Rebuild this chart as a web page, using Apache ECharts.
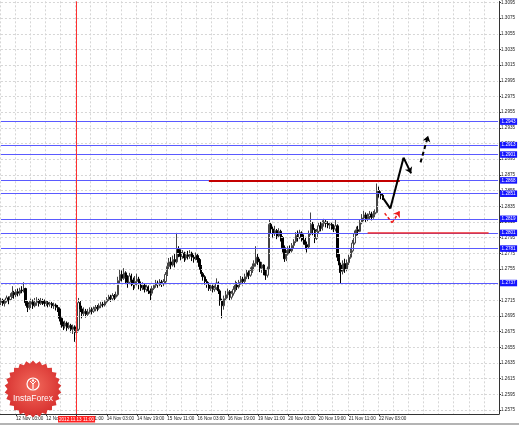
<!DOCTYPE html>
<html><head><meta charset="utf-8">
<script src="https://cdn.jsdelivr.net/npm/echarts@6/dist/echarts.min.js"></script>
<style>html,body{margin:0;padding:0;background:#fff}#c{width:519px;height:425px}</style>
</head><body><div id="c"></div><script>
// ---- data (H1 bars) ----
const firstOpen = 1.2712;
const closes = [
1.2715,1.2711,1.2714,1.2718,1.2716,1.2720,1.2725,1.2722,1.2726,1.2724,
1.2728,1.2727,1.2730,1.2712,1.2706,1.2710,1.2713,1.2708,1.2712,1.2715,
1.2711,1.2714,1.2713,1.2711,1.2712,1.2710,1.2711,1.2708,1.2709,1.2706,
1.2704,1.2692,1.2684,1.2682,1.2686,1.2680,1.2683,1.2678,1.2681,1.2674,
1.2678,1.2712,1.2704,1.2698,1.2701,1.2697,1.2700,1.2703,1.2701,1.2704,
1.2706,1.2705,1.2708,1.2710,1.2709,1.2713,1.2716,1.2719,1.2717,1.2721,
1.2719,1.2722,1.2740,1.2748,1.2743,1.2750,1.2744,1.2738,1.2746,1.2741,
1.2735,1.2739,1.2742,1.2736,1.2731,1.2734,1.2729,1.2732,1.2727,1.2724,
1.2730,1.2734,1.2737,1.2735,1.2738,1.2736,1.2739,1.2748,1.2758,1.2764,
1.2760,1.2767,1.2764,1.2780,1.2776,1.2771,1.2775,1.2769,1.2773,1.2771,
1.2775,1.2770,1.2768,1.2772,1.2767,1.2758,1.2749,1.2745,1.2739,1.2736,
1.2730,1.2733,1.2729,1.2731,1.2737,1.2727,1.2715,1.2708,1.2717,1.2722,
1.2726,1.2719,1.2724,1.2729,1.2735,1.2732,1.2738,1.2742,1.2739,1.2745,
1.2750,1.2747,1.2753,1.2758,1.2762,1.2770,1.2764,1.2756,1.2760,1.2752,
1.2747,1.2755,1.2812,1.2806,1.2800,1.2804,1.2797,1.2803,1.2795,1.2782,
1.2768,1.2774,1.2780,1.2778,1.2785,1.2790,1.2798,1.2795,1.2801,1.2796,
1.2792,1.2786,1.2783,1.2800,1.2812,1.2805,1.2794,1.2803,1.2810,1.2807,
1.2813,1.2815,1.2813,1.2811,1.2812,1.2809,1.2806,1.2810,1.2770,1.2760,
1.2752,1.2762,1.2755,1.2763,1.2770,1.2778,1.2788,1.2800,1.2805,1.2803,
1.2814,1.2820,1.2824,1.2819,1.2822,1.2825,1.2821,1.2825,1.2827,1.2855,
1.2851,1.2849,1.2846];
const highs = [
1.2718,1.2717,1.2716,1.2721,1.2720,1.2724,1.2733,1.2727,1.2729,1.2730,
1.2731,1.2733,1.2738,1.2731,1.2714,1.2714,1.2717,1.2716,1.2718,1.2719,
1.2717,1.2718,1.2717,1.2716,1.2715,1.2714,1.2713,1.2713,1.2712,1.2711,
1.2709,1.2706,1.2693,1.2688,1.2689,1.2688,1.2687,1.2685,1.2684,1.2683,
1.2682,1.2718,1.2714,1.2708,1.2706,1.2704,1.2704,1.2706,1.2706,1.2707,
1.2709,1.2709,1.2711,1.2713,1.2713,1.2715,1.2719,1.2722,1.2722,1.2724,
1.2723,1.2726,1.2745,1.2754,1.2753,1.2756,1.2752,1.2747,1.2750,1.2749,
1.2744,1.2746,1.2749,1.2745,1.2739,1.2738,1.2736,1.2736,1.2734,1.2730,
1.2733,1.2737,1.2741,1.2740,1.2742,1.2741,1.2742,1.2751,1.2763,1.2769,
1.2770,1.2772,1.2774,1.2801,1.2784,1.2780,1.2779,1.2777,1.2776,1.2778,
1.2779,1.2777,1.2773,1.2776,1.2774,1.2769,1.2760,1.2751,1.2747,1.2742,
1.2738,1.2736,1.2735,1.2734,1.2743,1.2739,1.2729,1.2717,1.2721,1.2727,
1.2730,1.2728,1.2727,1.2733,1.2740,1.2738,1.2741,1.2746,1.2745,1.2749,
1.2754,1.2753,1.2757,1.2762,1.2766,1.2784,1.2775,1.2768,1.2764,1.2761,
1.2755,1.2758,1.2818,1.2814,1.2809,1.2810,1.2806,1.2807,1.2805,1.2797,
1.2785,1.2779,1.2784,1.2785,1.2788,1.2793,1.2802,1.2804,1.2805,1.2803,
1.2799,1.2796,1.2790,1.2804,1.2827,1.2815,1.2807,1.2806,1.2814,1.2815,
1.2817,1.2819,1.2818,1.2816,1.2815,1.2814,1.2812,1.2818,1.2812,1.2774,
1.2763,1.2766,1.2768,1.2767,1.2773,1.2782,1.2792,1.2804,1.2809,1.2810,
1.2818,1.2825,1.2829,1.2827,1.2826,1.2829,1.2828,1.2829,1.2831,1.2864,
1.2860,1.2854,1.2851];
const lows = [
1.2709,1.2708,1.2707,1.2712,1.2710,1.2714,1.2718,1.2717,1.2719,1.2720,
1.2721,1.2724,1.2725,1.2708,1.2700,1.2703,1.2705,1.2704,1.2706,1.2708,
1.2707,1.2709,1.2709,1.2707,1.2708,1.2706,1.2707,1.2705,1.2704,1.2702,
1.2700,1.2688,1.2680,1.2677,1.2679,1.2676,1.2678,1.2674,1.2672,1.2662,
1.2665,1.2676,1.2700,1.2692,1.2695,1.2693,1.2695,1.2698,1.2697,1.2699,
1.2701,1.2701,1.2703,1.2705,1.2706,1.2707,1.2711,1.2714,1.2713,1.2715,
1.2714,1.2717,1.2720,1.2737,1.2739,1.2741,1.2736,1.2731,1.2735,1.2733,
1.2728,1.2730,1.2734,1.2729,1.2727,1.2728,1.2725,1.2726,1.2723,1.2715,
1.2721,1.2728,1.2731,1.2731,1.2733,1.2732,1.2733,1.2737,1.2746,1.2755,
1.2755,1.2758,1.2757,1.2762,1.2770,1.2766,1.2768,1.2764,1.2766,1.2767,
1.2768,1.2765,1.2763,1.2766,1.2763,1.2754,1.2745,1.2740,1.2735,1.2731,
1.2727,1.2727,1.2725,1.2726,1.2728,1.2723,1.2708,1.2692,1.2703,1.2714,
1.2718,1.2715,1.2716,1.2721,1.2726,1.2728,1.2730,1.2735,1.2734,1.2737,
1.2742,1.2742,1.2745,1.2750,1.2753,1.2758,1.2760,1.2751,1.2750,1.2747,
1.2741,1.2744,1.2754,1.2800,1.2795,1.2797,1.2793,1.2795,1.2790,1.2776,
1.2764,1.2765,1.2772,1.2774,1.2776,1.2781,1.2788,1.2790,1.2793,1.2790,
1.2786,1.2780,1.2776,1.2781,1.2798,1.2798,1.2788,1.2792,1.2800,1.2803,
1.2804,1.2809,1.2808,1.2807,1.2806,1.2805,1.2802,1.2803,1.2765,1.2750,
1.2737,1.2748,1.2750,1.2752,1.2760,1.2768,1.2776,1.2786,1.2797,1.2798,
1.2802,1.2812,1.2816,1.2815,1.2816,1.2818,1.2817,1.2819,1.2821,1.2826,
1.2846,1.2844,1.2843];

const priceTicks = [1.2575,1.2595,1.2615,1.2635,1.2655,1.2675,1.2695,1.2715,1.2735,1.2755,1.2775,1.2795,1.2815,1.2835,1.2855,1.2875,1.2895,1.2915,1.2935,1.2955,1.2975,1.2995,1.3015,1.3035,1.3055,1.3075,1.3095];
const levelPrices = [1.2943,1.2913,1.2901,1.2868,1.2851,1.2819,1.2801,1.2781,1.2737];
const currentPrice = 1.2846;
const redLevelPrices = [1.2868, 1.2801];
const redLevelFromBar = [110, 194];
const redLevelToBar = [211, 258];
const separatorBar = 40;
const separatorText = '2012.11.13 11:00';
const blackPathBars = [202, 206, 213, 217];
const blackPathPrices = [1.2846, 1.2832, 1.2897, 1.2877];
const blackDashBars = [222, 226];
const blackDashPrices = [1.2891, 1.2925];
const redPathBars = [203, 207, 211];
const redPathPrices = [1.2826, 1.2814, 1.2829];
const totalSlots = 264;
const firstBarTime = Date.UTC(2012, 10, 9, 19);

// ---- categories: hourly bars, weekends skipped ----
const MON = ['Jan','Feb','Mar','Apr','May','Jun','Jul','Aug','Sep','Oct','Nov','Dec'];
const cats = [];
for (let t = firstBarTime; cats.length < totalSlots; t += 3600000) {
  const d = new Date(t), wd = d.getUTCDay();
  if (wd === 0 || wd === 6) continue;
  cats.push(d.getUTCDate() + ' ' + MON[d.getUTCMonth()] + ' ' + String(d.getUTCHours()).padStart(2, '0') + ':00');
}
const lastBar = closes.length - 1;
const firstCat = cats[0], lastCat = cats[totalSlots - 1];
const ohlc = closes.map((c, i) => [i === 0 ? firstOpen : closes[i - 1], c, lows[i], highs[i]]);

function segs(bars, prices, style) {
  const out = [];
  for (let i = 0; i < bars.length - 1; i++) {
    out.push({
      coords: [[bars[i], prices[i]], [bars[i + 1], prices[i + 1]]],
      symbol: ['none', i === bars.length - 2 ? 'arrow' : 'none'],
      symbolSize: [6, 6],
      lineStyle: style
    });
  }
  return out;
}
function hline(p, lineStyle, label) {
  return [
    {coord: [firstCat, p], lineStyle: lineStyle, label: label || {show: false}},
    {coord: [lastCat, p]}
  ];
}

const FS = 4.6, FF = '"Liberation Sans", Arial, sans-serif';
const boxLabel = (txt, bg) => ({show: true, position: 'end', distance: 2, formatter: txt, fontSize: FS, fontFamily: FF,
  color: '#ffffff', backgroundColor: bg, padding: [1, 1.5, 0.5, 1.5]});

// logo starburst (decoration)
const star = [];
const NS = 26, LCX = 33, LCY = 389;
for (let k = 0; k < NS * 2; k++) {
  const r = k % 2 ? 25.5 : 28.5, a = k * Math.PI / NS - Math.PI / 2;
  star.push([LCX + r * Math.cos(a), LCY + r * Math.sin(a)]);
}

const chart = echarts.init(document.getElementById('c'), null, {renderer: 'canvas'});
chart.setOption({
  animation: false,
  backgroundColor: '#ffffff',
  grid: {left: 0, right: 20, top: 0, bottom: 11, containLabel: false},
  xAxis: {
    type: 'category', data: cats, boundaryGap: true,
    axisLine: {show: true, lineStyle: {color: '#333', width: 1}},
    axisTick: {show: true, alignWithLabel: true, length: 2, lineStyle: {color: '#333'},
      interval: (i) => (i - 8) % 16 === 0 && i <= lastBar},
    axisLabel: {show: true, fontSize: FS, fontFamily: FF, color: '#222', margin: 2, align: 'left',
      interval: (i) => (i - 8) % 16 === 0 && i <= lastBar},
    splitLine: {show: true, interval: (i) => i % 8 === 0, lineStyle: {color: '#d6d6d6', type: [2, 2], width: 1}}
  },
  yAxis: {
    type: 'value', position: 'right', scale: true, min: 1.25699, max: 1.30965,
    axisLine: {show: true, lineStyle: {color: '#333', width: 1}},
    axisTick: {show: true, length: 2, customValues: priceTicks, lineStyle: {color: '#333'}},
    axisLabel: {show: true, fontSize: FS, fontFamily: FF, color: '#222', margin: 2,
      customValues: priceTicks, formatter: (v) => v.toFixed(4)},
    splitLine: {show: false}
  },
  series: [
    {
      type: 'line', data: [], z: 1, silent: true,
      markLine: {
        silent: true, symbol: ['none', 'none'], animation: false,
        data: priceTicks.map(p => hline(p, {color: '#d6d6d6', width: 1, type: [2, 2]}))
      }
    },
    {
      type: 'candlestick', data: ohlc, barWidth: '92%', z: 3,
      itemStyle: {color: '#ffffff', color0: '#000000', borderColor: '#444444', borderColor0: '#000000', borderWidth: 1}
    },
    {
      type: 'line', data: [], z: 4, silent: true,
      markLine: {
        silent: true, symbol: ['none', 'none'], animation: false,
        data: [
          ...levelPrices.map(v => hline(v, {color: '#5a5aff', width: 1.1, type: 'solid'}, boxLabel(v.toFixed(4), '#1414ff'))),
          hline(currentPrice, {opacity: 0}, boxLabel(currentPrice.toFixed(4), '#000000')),
          [{coord: [cats[separatorBar], 1.25699], lineStyle: {color: '#ff3030', width: 1, type: 'solid'},
            label: {show: true, position: 'start', distance: 2, formatter: separatorText, fontSize: FS, fontFamily: FF,
              color: '#ffffff', backgroundColor: '#ff2020', padding: [1, 1, 0.5, 1]}},
           {coord: [cats[separatorBar], 1.30965]}],
          ...redLevelPrices.map((p, k) => [
            {coord: [cats[redLevelFromBar[k]], p], lineStyle: {color: k === 0 ? '#c40000' : '#ee2a2a', width: k === 0 ? 2 : 1.5, type: 'solid'}, label: {show: false}},
            {coord: [cats[redLevelToBar[k]], p]}
          ])
        ]
      }
    },
    {
      type: 'lines', coordinateSystem: 'cartesian2d', silent: true, z: 5,
      data: [
        ...segs(blackPathBars, blackPathPrices, {color: '#000', width: 2, type: 'solid', opacity: 1}),
        ...segs(blackDashBars, blackDashPrices, {color: '#000', width: 2, type: [4, 3], opacity: 1}),
        ...segs(redPathBars, redPathPrices, {color: '#ee1c1c', width: 1.5, type: [3, 2], opacity: 1})
      ]
    }
  ],
  graphic: [
    {type: 'rect', shape: {x: 0, y: 423, width: 519, height: 2}, style: {fill: '#b4b4b4'}, z: 50},
    {type: 'polygon', shape: {points: star}, z: 100,
      style: {fill: {type: 'radial', x: 0.5, y: 0.45, r: 0.6, colorStops: [{offset: 0, color: '#f26a5c'}, {offset: 1, color: '#d42a2a'}]}}},
    {type: 'circle', shape: {cx: 33, cy: 384, r: 6}, z: 101, style: {fill: 'none', stroke: '#ffffff', lineWidth: 1.2}},
    {type: 'circle', shape: {cx: 33, cy: 380.5, r: 1.2}, z: 101, style: {fill: '#ffffff'}},
    {type: 'polyline', shape: {points: [[30, 381], [33, 384], [36, 381]]}, z: 101, style: {stroke: '#ffffff', lineWidth: 1, fill: 'none'}},
    {type: 'line', shape: {x1: 33, y1: 383, x2: 33, y2: 389}, z: 101, style: {stroke: '#ffffff', lineWidth: 1.2}},
    {type: 'text', x: 33, y: 399, z: 101,
      style: {text: 'InstaForex', fill: '#ffffff', fontSize: 8.5, fontFamily: FF, align: 'center', verticalAlign: 'middle'}}
  ]
});
</script></body></html>
